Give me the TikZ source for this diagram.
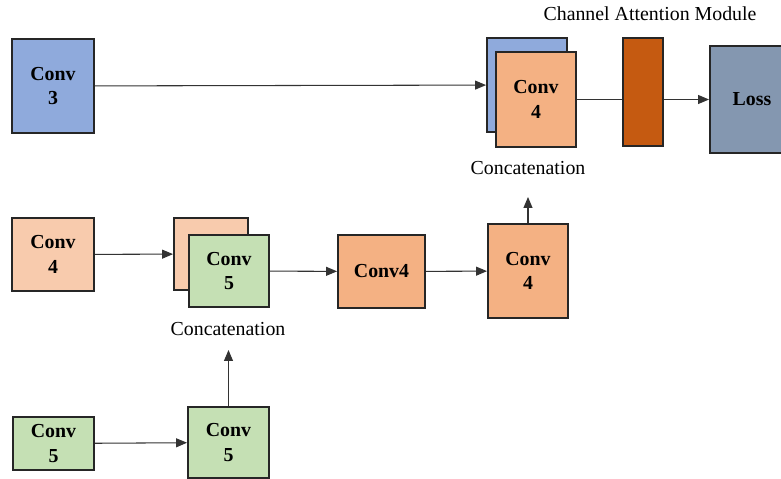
\documentclass[tikz,border=0pt]{standalone}
\usepackage{fontspec}
\setmainfont{Liberation Serif}
\usetikzlibrary{arrows.meta,positioning}
\definecolor{convblue}{HTML}{8FAADC}
\definecolor{convpeach}{HTML}{F8CBAD}
\definecolor{convorange}{HTML}{F4B183}
\definecolor{convgreen}{HTML}{C5E0B4}
\definecolor{camorange}{HTML}{C55A11}
\definecolor{lossgray}{HTML}{8497B0}
\newcommand{\boxfont}{\fontsize{11.3}{14}\selectfont\bfseries}
\newcommand{\capfont}{\fontsize{11.3}{14}\selectfont}

\begin{document}
\begin{tikzpicture}[x=0.02cm,y=-0.02cm,
    conv/.style={draw=black!85, line width=1.1pt, inner sep=0pt, align=center, font=\boxfont},
    wire/.style={draw=black!80, line width=0.6pt},
    flow/.style={wire, -{Triangle[length=2.2mm,width=1.8mm]}},
    caption/.style={font=\capfont, inner sep=0pt}]
    \useasboundingbox (0,0) rectangle (781,479);
    % top row
    \node [conv, fill=convblue, minimum width=1.64cm, minimum height=1.88cm] (c3) at (53,86) {Conv\\3};
    \node [conv, fill=convblue, minimum width=1.6cm, minimum height=1.88cm] (catAback) at (527,85) {};
    \node [conv, fill=convorange, minimum width=1.6cm, minimum height=1.9cm] (catA) at (536,99.5) {Conv\\4};
    \node [conv, fill=camorange, minimum width=0.8cm, minimum height=2.16cm] (cam) at (643,92) {};
    \node [conv, fill=lossgray, minimum width=1.68cm, minimum height=2.14cm] (loss) at (752,99.5) {Loss};
    \node [caption] (camlbl) at (650,14) {Channel Attention Module};
    \node [caption] (catAlbl) at (528,168) {Concatenation};
    % middle row
    \node [conv, fill=convpeach, minimum width=1.64cm, minimum height=1.46cm] (c4a) at (53,254.5) {Conv\\4};
    \node [conv, fill=convpeach, minimum width=1.48cm, minimum height=1.44cm] (catBback) at (211,254) {};
    \node [conv, fill=convgreen, minimum width=1.6cm, minimum height=1.44cm] (catB) at (229,271) {Conv\\5};
    \node [conv, fill=convorange, minimum width=1.74cm, minimum height=1.46cm] (c4b) at (381.5,271.5) {Conv4};
    \node [conv, fill=convorange, minimum width=1.6cm, minimum height=1.88cm] (c4c) at (528,271) {Conv\\4};
    \node [caption] (catBlbl) at (228,329) {Concatenation};
    % bottom row
    \node [conv, fill=convgreen, minimum width=1.62cm, minimum height=1.06cm] (c5a) at (53.5,443.5) {Conv\\5};
    \node [conv, fill=convgreen, minimum width=1.62cm, minimum height=1.42cm] (c5b) at (228.5,442.5) {Conv\\5};
    \coordinate (upA) at (528,197);
    \coordinate (upB) at (228.5,350);
    % connectors
    \draw [flow] (c3) -- (catAback);
    \draw [wire] (catA.east) -- (catA.east -| cam.west);
    \draw [flow] (loss.west -| cam.east) -- (loss.west);
    \draw [flow] (c4a) -- (catBback);
    \draw [flow] (catB) -- (c4b);
    \draw [flow] (c4b) -- (c4c);
    \draw [flow] (c4c.north) -- (upA);
    \draw [flow] (c5a) -- (c5b);
    \draw [flow] (c5b.north) -- (upB);
\end{tikzpicture}
\end{document}
